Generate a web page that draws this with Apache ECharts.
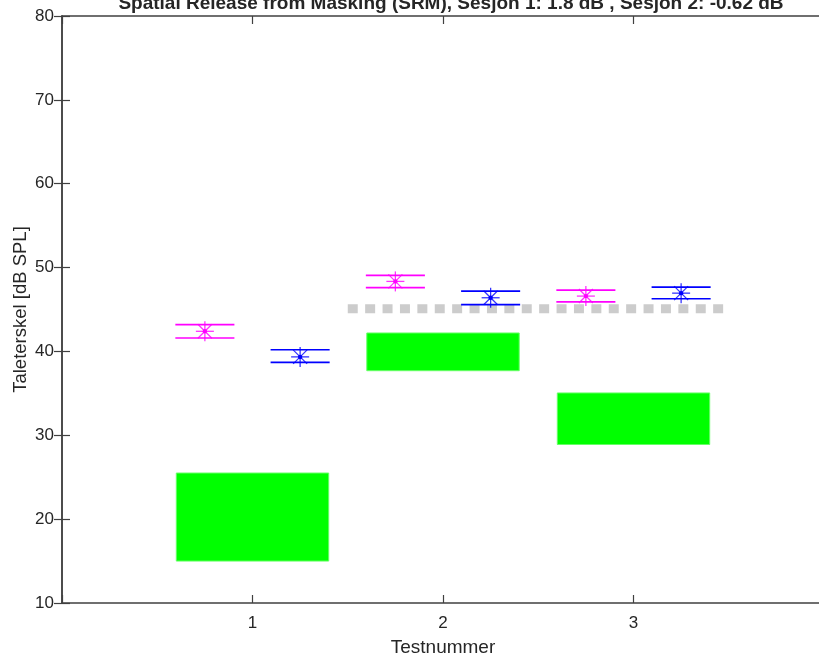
<!DOCTYPE html>
<html>
<head>
<meta charset="utf-8">
<script src="https://cdn.jsdelivr.net/npm/echarts@6/dist/echarts.min.js"></script>
<style>html,body{margin:0;padding:0;background:#fff;}#c{width:819px;height:657px;}</style>
</head>
<body>
<div id="c"></div>
<script>
// ---- data ----
const tests = [1, 2, 3];
const xTickLabels = ['1', '2', '3'];
const greenLow = [15.0, 37.7, 28.9];
const greenHigh = [25.5, 42.2, 35.05];
const s1Mean = [42.4, 48.35, 46.6];
const s1Upper = [43.2, 49.07, 47.3];
const s1Lower = [41.6, 47.6, 45.9];
const s2Mean = [39.35, 46.4, 46.95];
const s2Upper = [40.2, 47.2, 47.67];
const s2Lower = [38.7, 45.57, 46.28];
const refLevel = 45.1;
const refRange = [1.5, 3.5];
const titleText = 'Spatial Release from Masking (SRM), Sesjon 1: 1.8 dB , Sesjon 2: -0.62 dB';

// ---- layout constants (not data) ----
const sessionOffset = 0.25;
const boxHalf = 0.4;
const barHalf = 0.155;
const FONT = 'Liberation Sans, Arial, sans-serif';
const AX = '#404040';
const TXT = '#262626';

const chart = echarts.init(document.getElementById('c'), null, {renderer: 'canvas'});

function boxData() {
  return tests.map((t, i) => [t, greenLow[i], greenHigh[i]]);
}
function sessionData(offset, mean, up, lo) {
  return tests.map((t, i) => [t + offset, mean[i], up[i], lo[i]]);
}

function renderBox(params, api) {
  const x = api.value(0), lo = api.value(1), hi = api.value(2);
  const p1 = api.coord([x - boxHalf, hi]);
  const p2 = api.coord([x + boxHalf, lo]);
  return {
    type: 'rect',
    shape: {x: p1[0], y: p1[1], width: p2[0] - p1[0], height: p2[1] - p1[1]},
    style: {fill: '#00ff00', stroke: '#66ff66', lineWidth: 1}
  };
}

function makeSessionRenderer(color) {
  return function (params, api) {
    const x = api.value(0), m = api.value(1), up = api.value(2), lo = api.value(3);
    const a1 = api.coord([x - barHalf, up]), a2 = api.coord([x + barHalf, up]);
    const b1 = api.coord([x - barHalf, lo]), b2 = api.coord([x + barHalf, lo]);
    const c = api.coord([x, m]);
    const r = 10, d = 7;
    const ls = {stroke: color, lineWidth: 1.7};
    const ms = {stroke: color, lineWidth: 1.3, opacity: 0.8};
    return {
      type: 'group',
      children: [
        {type: 'line', shape: {x1: a1[0], y1: a1[1], x2: a2[0], y2: a2[1]}, style: ls},
        {type: 'line', shape: {x1: b1[0], y1: b1[1], x2: b2[0], y2: b2[1]}, style: ls},
        {type: 'line', shape: {x1: c[0], y1: c[1] - r, x2: c[0], y2: c[1] + r}, style: ms},
        {type: 'line', shape: {x1: c[0] - 9, y1: c[1], x2: c[0] + 9, y2: c[1]}, style: ms},
        {type: 'line', shape: {x1: c[0] - d, y1: c[1] - d, x2: c[0] + d, y2: c[1] + d}, style: ms},
        {type: 'line', shape: {x1: c[0] - d, y1: c[1] + d, x2: c[0] + d, y2: c[1] - d}, style: ms},
        {type: 'circle', shape: {cx: c[0], cy: c[1], r: 2.2}, style: {fill: color}}
      ]
    };
  };
}

const axisCommon = {
  axisLine: {show: true, lineStyle: {color: AX, width: 1.5}},
  axisTick: {show: true, inside: true, length: 8, lineStyle: {color: AX, width: 1.2}},
  splitLine: {show: false}
};

chart.setOption({
  animation: false,
  backgroundColor: '#ffffff',
  title: {
    text: titleText,
    left: 446,
    textAlign: 'center',
    top: -11,
    textStyle: {fontFamily: FONT, fontSize: 19, fontWeight: 'bold', color: TXT}
  },
  grid: {left: 62, width: 762, top: 16, height: 587, containLabel: false, outerBoundsMode: 'none'},
  xAxis: [
    Object.assign({
      type: 'value', min: 0, max: 4, interval: 1, position: 'bottom',
      name: 'Testnummer', nameLocation: 'middle', nameGap: 35, nameMoveOverlap: false,
      nameTextStyle: {fontFamily: FONT, fontSize: 19, color: TXT},
      axisLabel: {
        fontFamily: FONT, fontSize: 17, color: TXT, margin: 12,
        formatter: v => { const i = tests.indexOf(v); return i >= 0 ? xTickLabels[i] : ''; }
      }
    }, axisCommon),
    Object.assign({
      type: 'value', min: 0, max: 4, interval: 1, position: 'top',
      axisLabel: {show: false}
    }, axisCommon)
  ],
  yAxis: [
    Object.assign({
      type: 'value', min: 10, max: 80, interval: 10, position: 'left',
      name: 'Taleterskel [dB SPL]', nameLocation: 'middle', nameGap: 32, nameRotate: 90,
      nameMoveOverlap: false,
      nameTextStyle: {fontFamily: FONT, fontSize: 18.5, color: TXT},
      axisLabel: {fontFamily: FONT, fontSize: 17, color: TXT, margin: 8}
    }, axisCommon),
    Object.assign({
      type: 'value', min: 10, max: 80, interval: 10, position: 'right',
      axisLabel: {show: false}
    }, axisCommon)
  ],
  series: [
    {
      type: 'custom', xAxisIndex: 0, yAxisIndex: 0,
      renderItem: renderBox, data: boxData(), z: 2
    },
    {
      type: 'line', xAxisIndex: 0, yAxisIndex: 0,
      data: refRange.map(x => [x, refLevel]),
      symbol: 'none',
      lineStyle: {color: '#cccccc', width: 9, type: [10, 7.4], cap: 'butt'},
      z: 3
    },
    {
      type: 'custom', xAxisIndex: 0, yAxisIndex: 0,
      renderItem: makeSessionRenderer('#ff00ff'),
      data: sessionData(-sessionOffset, s1Mean, s1Upper, s1Lower), z: 4
    },
    {
      type: 'custom', xAxisIndex: 0, yAxisIndex: 0,
      renderItem: makeSessionRenderer('#0000ff'),
      data: sessionData(sessionOffset, s2Mean, s2Upper, s2Lower), z: 5
    }
  ]
});
</script>
</body>
</html>
